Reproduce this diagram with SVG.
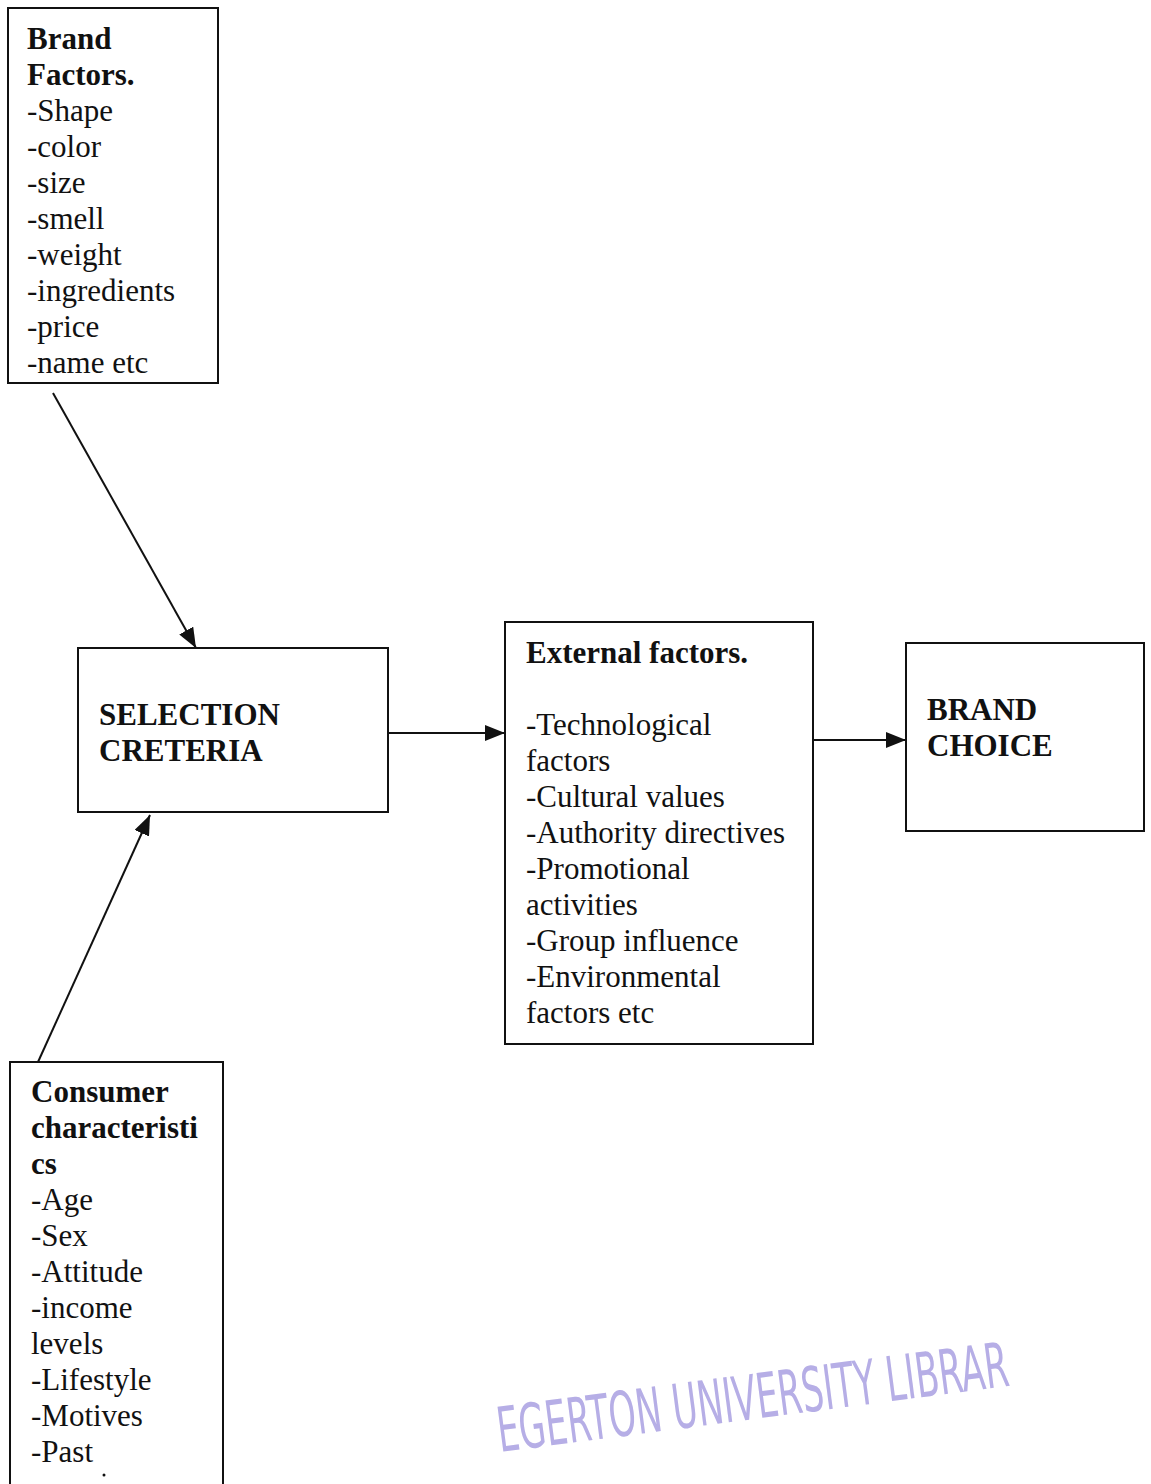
<svg xmlns="http://www.w3.org/2000/svg" width="1151" height="1484" viewBox="0 0 1151 1484">
<style>
.box{fill:#fff;stroke:#111;stroke-width:2}
.t{font-family:"Liberation Serif","Times New Roman",serif;font-size:31px;fill:#111}
.b{font-weight:bold}
.c{stroke:#111;stroke-width:2;fill:none}
.stamp{font-family:"DejaVu Sans Condensed","Liberation Sans Narrow","DejaVu Sans",sans-serif;font-size:62px;fill:#a49ae0;opacity:0.8}
</style>
<defs>
<marker id="ah" viewBox="0 0 20 16" refX="20" refY="8" markerWidth="20" markerHeight="16" markerUnits="userSpaceOnUse" orient="auto">
<path d="M0,0 L20,8 L0,16 Z" fill="#111"/>
</marker>
</defs>
<rect width="1151" height="1484" fill="#fff"/>
<g id="connectors">
<line class="c" x1="53" y1="393" x2="196" y2="648" marker-end="url(#ah)"/>
<line class="c" x1="38" y1="1062" x2="150" y2="815" marker-end="url(#ah)"/>
<line class="c" x1="388" y1="733" x2="505" y2="733" marker-end="url(#ah)"/>
<line class="c" x1="813" y1="740" x2="906" y2="740" marker-end="url(#ah)"/>
</g>
<g id="brand-factors">
<rect class="box" x="8" y="8" width="210" height="375"/>
<text class="t b" x="27" y="49">Brand</text>
<text class="t b" x="27" y="85">Factors.</text>
<text class="t" x="27" y="121">-Shape</text>
<text class="t" x="27" y="157">-color</text>
<text class="t" x="27" y="193">-size</text>
<text class="t" x="27" y="229">-smell</text>
<text class="t" x="27" y="265">-weight</text>
<text class="t" x="27" y="301">-ingredients</text>
<text class="t" x="27" y="337">-price</text>
<text class="t" x="27" y="373">-name etc</text>
</g>
<g id="selection-criteria">
<rect class="box" x="78" y="648" width="310" height="164"/>
<text class="t b" x="99" y="725">SELECTION</text>
<text class="t b" x="99" y="761">CRETERIA</text>
</g>
<g id="external-factors">
<rect class="box" x="505" y="622" width="308" height="422"/>
<text class="t b" x="526" y="663">External factors.</text>
<text class="t" x="526" y="735">-Technological</text>
<text class="t" x="526" y="771">factors</text>
<text class="t" x="526" y="807">-Cultural values</text>
<text class="t" x="526" y="843">-Authority directives</text>
<text class="t" x="526" y="879">-Promotional</text>
<text class="t" x="526" y="915">activities</text>
<text class="t" x="526" y="951">-Group influence</text>
<text class="t" x="526" y="987">-Environmental</text>
<text class="t" x="526" y="1023">factors etc</text>
</g>
<g id="brand-choice">
<rect class="box" x="906" y="643" width="238" height="188"/>
<text class="t b" x="927" y="720">BRAND</text>
<text class="t b" x="927" y="756">CHOICE</text>
</g>
<g id="consumer-characteristics">
<rect class="box" x="10" y="1062" width="213" height="430"/>
<text class="t b" x="31" y="1102">Consumer</text>
<text class="t b" x="31" y="1138">characteristi</text>
<text class="t b" x="31" y="1174">cs</text>
<text class="t" x="31" y="1210">-Age</text>
<text class="t" x="31" y="1246">-Sex</text>
<text class="t" x="31" y="1282">-Attitude</text>
<text class="t" x="31" y="1318">-income</text>
<text class="t" x="31" y="1354">levels</text>
<text class="t" x="31" y="1390">-Lifestyle</text>
<text class="t" x="31" y="1426">-Motives</text>
<text class="t" x="31" y="1462">-Past</text>
<circle cx="104" cy="1475" r="1.5" fill="#111"/>
</g>
<g id="stamp">
<text class="stamp" x="500" y="1452" transform="rotate(-7.4 500 1452)" textLength="515" lengthAdjust="spacingAndGlyphs">EGERTON UNIVERSITY LIBRAR</text>
</g>
</svg>
